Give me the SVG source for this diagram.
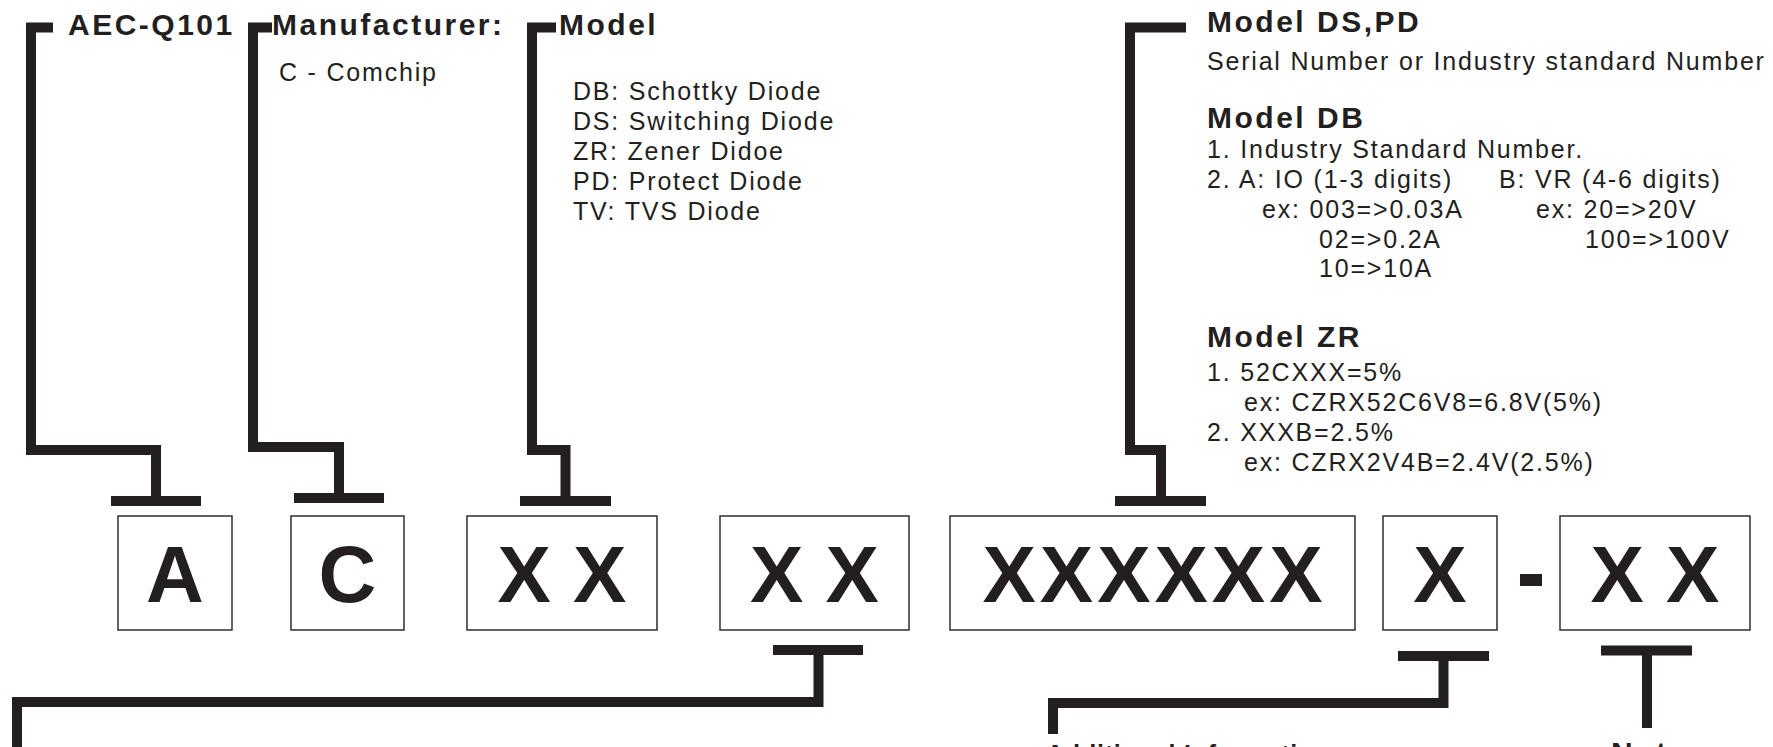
<svg xmlns="http://www.w3.org/2000/svg" width="1773" height="747" viewBox="0 0 1773 747">
<style>
text{font-family:"Liberation Sans",Arial,sans-serif;fill:#231f20}
.h{font-weight:bold;font-size:30px;letter-spacing:2.5px}
.b{font-size:25px;letter-spacing:1.8px}
.big{font-weight:bold;font-size:80px;text-anchor:middle}
.box{fill:#fff;stroke:#231f20;stroke-width:1.4}
.ln{fill:none;stroke:#231f20;stroke-width:10;stroke-linejoin:miter;stroke-linecap:butt}
</style>
<rect width="1773" height="747" fill="#fff"/>
<g id="connectors">
<path class="ln" d="M53,27.5 H31 V450 H156 V496"/>
<path class="ln" d="M111,501 H201"/>
<path class="ln" d="M272,27.5 H253 V447 H339 V493"/>
<path class="ln" d="M294,498 H384"/>
<path class="ln" d="M556,27.5 H532 V450 H565.5 V496"/>
<path class="ln" d="M520,501 H611"/>
<path class="ln" d="M1186,27.5 H1130 V450 H1161 V496"/>
<path class="ln" d="M1115,501 H1206"/>
<path class="ln" d="M773,650 H863"/>
<path class="ln" d="M818.5,655 V702 H17 V752"/>
<path class="ln" d="M1398,656 H1489"/>
<path class="ln" d="M1443.5,661 V703 H1053 V734"/>
<path class="ln" d="M1601,650.5 H1692"/>
<path class="ln" d="M1647,655 V728"/>
</g>
<g id="label-aec">
<text class="h" x="68" y="35">AEC-Q101</text>
</g>
<g id="label-manufacturer">
<text class="h" x="272" y="35">Manufacturer:</text>
<text class="b" x="279" y="81">C - Comchip</text>
</g>
<g id="label-model">
<text class="h" x="559" y="35">Model</text>
<text class="b" x="573" y="100">DB: Schottky Diode</text>
<text class="b" x="573" y="130">DS: Switching Diode</text>
<text class="b" x="573" y="160">ZR: Zener Didoe</text>
<text class="b" x="573" y="190">PD: Protect Diode</text>
<text class="b" x="573" y="220">TV: TVS Diode</text>
</g>
<g id="label-serial">
<text class="h" x="1207" y="32">Model DS,PD</text>
<text class="b" x="1207" y="70">Serial Number or Industry standard Number</text>
<text class="h" x="1207" y="128">Model DB</text>
<text class="b" x="1207" y="158">1. Industry Standard Number.</text>
<text class="b" x="1207" y="188">2. A: IO (1-3 digits)</text>
<text class="b" x="1499" y="188">B: VR (4-6 digits)</text>
<text class="b" x="1262" y="218">ex: 003=&gt;0.03A</text>
<text class="b" x="1536" y="218">ex: 20=&gt;20V</text>
<text class="b" x="1319" y="248">02=&gt;0.2A</text>
<text class="b" x="1585" y="248">100=&gt;100V</text>
<text class="b" x="1319" y="277">10=&gt;10A</text>
<text class="h" x="1207" y="347">Model ZR</text>
<text class="b" x="1207" y="381">1. 52CXXX=5%</text>
<text class="b" x="1244" y="411">ex: CZRX52C6V8=6.8V(5%)</text>
<text class="b" x="1207" y="441">2. XXXB=2.5%</text>
<text class="b" x="1244" y="471">ex: CZRX2V4B=2.4V(2.5%)</text>
</g>
<g id="label-additional">
<text class="h" x="1046" y="763" style="font-size:25px;letter-spacing:0.8px">Additional Information</text>
</g>
<g id="label-note">
<text class="h" x="1611" y="763">Note</text>
</g>
<g id="box-a"><rect class="box" x="118" y="516" width="114" height="114"/><text class="big" x="175" y="602">A</text></g>
<g id="box-c"><rect class="box" x="291" y="516" width="113" height="114"/><text class="big" x="347.5" y="602">C</text></g>
<g id="box-model"><rect class="box" x="467" y="516" width="190" height="114"/><text class="big" x="562" y="602">X X</text></g>
<g id="box-xx2"><rect class="box" x="720" y="516" width="189" height="114"/><text class="big" x="814.5" y="602">X X</text></g>
<g id="box-serial"><rect class="box" x="950" y="516" width="405" height="114"/><text class="big" x="1154.5" y="602" style="letter-spacing:4px">XXXXXX</text></g>
<g id="box-x"><rect class="box" x="1383" y="516" width="114" height="114"/><text class="big" x="1440" y="602">X</text></g>
<g id="dash"><rect x="1520" y="574" width="22" height="12" fill="#231f20"/></g>
<g id="box-note"><rect class="box" x="1560" y="516" width="190" height="114"/><text class="big" x="1655" y="602">X X</text></g>
</svg>
